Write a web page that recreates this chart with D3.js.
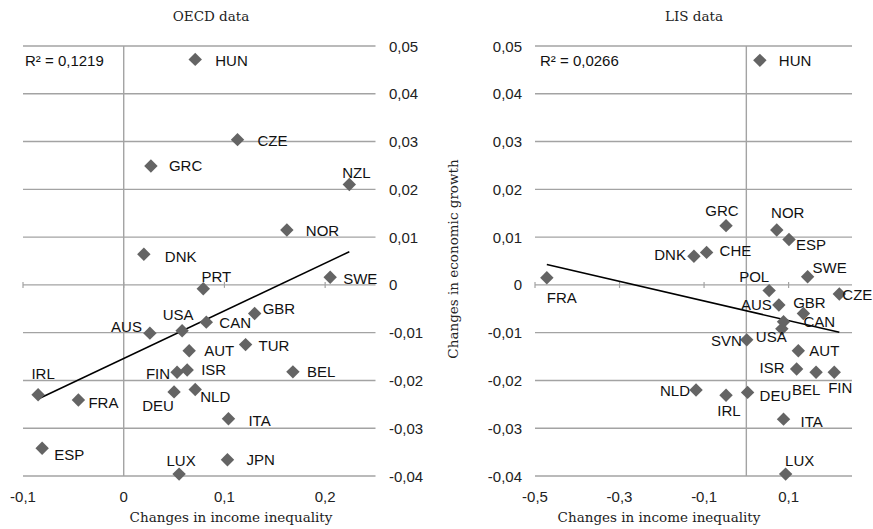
<!DOCTYPE html>
<html><head><meta charset="utf-8">
<script src="https://cdn.jsdelivr.net/npm/d3@7"></script>
<style>body{margin:0;background:#fff} svg{display:block}</style>
</head><body><svg id="c" width="873" height="529"></svg>
<script>
// ---------- DATA ----------
const oecdCountries = ["HUN","CZE","GRC","NZL","NOR","DNK","PRT","SWE","GBR","CAN","USA","AUS","AUT","TUR","FIN","ISR","BEL","IRL","FRA","DEU","NLD","ITA","ESP","JPN","LUX"];
const oecdX = [0.071,0.113,0.027,0.224,0.162,0.020,0.079,0.205,0.130,0.082,0.058,0.026,0.065,0.121,0.053,0.063,0.168,-0.085,-0.045,0.050,0.071,0.104,-0.081,0.103,0.055];
const oecdY = [0.0472,0.0304,0.0249,0.0210,0.0115,0.0064,-0.0008,0.0016,-0.0060,-0.0078,-0.0096,-0.0101,-0.0138,-0.0125,-0.0183,-0.0178,-0.0182,-0.0230,-0.0241,-0.0224,-0.0219,-0.0280,-0.0342,-0.0366,-0.0396];

const lisCountries = ["HUN","GRC","NOR","ESP","DNK","CHE","FRA","SWE","POL","CZE","AUS","GBR","CAN","USA","SVN","AUT","ISR","BEL","FIN","NLD","IRL","DEU","ITA","LUX"];
const lisX = [0.032,-0.048,0.072,0.101,-0.124,-0.094,-0.472,0.145,0.054,0.220,0.077,0.135,0.088,0.084,0.001,0.123,0.119,0.165,0.208,-0.119,-0.048,0.003,0.088,0.093];
const lisY = [0.0470,0.0124,0.0115,0.0095,0.0060,0.0068,0.0015,0.0017,-0.0012,-0.0019,-0.0042,-0.0060,-0.0077,-0.0092,-0.0115,-0.0138,-0.0176,-0.0183,-0.0183,-0.0220,-0.0231,-0.0225,-0.0281,-0.0396];

const yTicks = [-0.04,-0.03,-0.02,-0.01,0,0.01,0.02,0.03,0.04,0.05];
const oecdXTicks = [-0.1,0,0.1,0.2];
const lisXTicks = [-0.5,-0.3,-0.1,0.1];
const oecdTitle = "OECD data";
const lisTitle = "LIS data";
const oecdR2 = "R² = 0,1219";
const lisR2 = "R² = 0,0266";
const xTitle = "Changes in income inequality";
const yTitle = "Changes in economic growth";

// ---------- label placement (style) ----------
const oecdLabelPos = {
  HUN:[20,1,"start"], CZE:[20,1,"start"], GRC:[18,0,"start"], NZL:[7,-12,"middle"],
  NOR:[19,1,"start"], DNK:[21,2,"start"], PRT:[13,-12,"middle"], SWE:[13,1,"start"],
  GBR:[8,-5,"start"], CAN:[13,0,"start"], USA:[-4,-16,"middle"], AUS:[-8,-7,"end"],
  AUT:[15,0,"start"], TUR:[13,1,"start"], FIN:[-7,1,"end"], ISR:[14,0,"start"],
  BEL:[14,0,"start"], IRL:[5,-21,"middle"], FRA:[10,2,"start"], DEU:[-16,14,"middle"],
  NLD:[5,7,"start"], ITA:[20,2,"start"], ESP:[12,6,"start"], JPN:[19,0,"start"], LUX:[2,-14,"middle"]
};
const lisLabelPos = {
  HUN:[19,0,"start"], GRC:[-4,-15,"middle"], NOR:[11,-17,"middle"], ESP:[7,5,"start"],
  DNK:[-8,-2,"end"], CHE:[13,-2,"start"], FRA:[15,20,"middle"], SWE:[5,-9,"start"],
  POL:[-15,-14,"middle"], CZE:[3,1,"start"], AUS:[-7,0,"end"], GBR:[6,-11,"middle"],
  CAN:[20,0,"start"], USA:[-26,8,"start"], SVN:[-5,1,"end"], AUT:[11,0,"start"],
  ISR:[-12,-1,"end"], BEL:[-10,17,"middle"], FIN:[6,15,"middle"], NLD:[-6,0,"end"],
  IRL:[3,15,"middle"], DEU:[12,3,"start"], ITA:[17,2,"start"], LUX:[14,-14,"middle"]
};

// ---------- DRAW ----------
const svg = d3.select("#c");
svg.append("rect").attr("width",873).attr("height",529).attr("fill","#fff");
const SANS = "'Liberation Sans', Arial, sans-serif";
const SERIF = "'DejaVu Serif', serif";
const GRID = "#a3a3a3";
const MARK = "#646464";
const fmt = v => String(Math.round(v*100)/100).replace(".", ",");

const y = d3.scaleLinear().domain([-0.04, 0.05]).range([476, 46]);

function panel(o) {
  const g = svg.append("g");
  const x = o.x;
  const [x0, x1] = x.range();
  g.selectAll("line.grid").data(yTicks).join("line")
    .attr("x1", x0).attr("x2", x1)
    .attr("y1", d => y(d)).attr("y2", d => y(d))
    .attr("stroke", GRID).attr("stroke-width", 1.4);
  g.append("line").attr("x1", x(0)).attr("x2", x(0))
    .attr("y1", y(0.05)).attr("y2", y(-0.04))
    .attr("stroke", GRID).attr("stroke-width", 1.4);
  g.selectAll("line.tk").data(o.xTicks).join("line")
    .attr("x1", d => x(d)).attr("x2", d => x(d))
    .attr("y1", y(0) - 3).attr("y2", y(0) + 3)
    .attr("stroke", GRID).attr("stroke-width", 1.2);
  g.selectAll("text.yt").data(yTicks).join("text")
    .attr("x", o.yLabelX).attr("y", d => y(d))
    .attr("dominant-baseline", "central")
    .attr("text-anchor", o.yLabelAnchor)
    .attr("font-family", SANS).attr("font-size", 15).attr("fill", "#222")
    .text(fmt);
  g.selectAll("text.xt").data(o.xTicks).join("text")
    .attr("x", d => x(d)).attr("y", 496)
    .attr("dominant-baseline", "central")
    .attr("text-anchor", "middle")
    .attr("font-family", SANS).attr("font-size", 15).attr("fill", "#222")
    .text(fmt);
  // trend line (least squares)
  const n = o.xs.length;
  const mx = d3.mean(o.xs), my = d3.mean(o.ys);
  let sxy = 0, sxx = 0;
  for (let i = 0; i < n; i++) { sxy += (o.xs[i]-mx)*(o.ys[i]-my); sxx += (o.xs[i]-mx)**2; }
  const b = sxy / sxx, a = my - b * mx;
  const [xmin, xmax] = d3.extent(o.xs);
  g.append("line")
    .attr("x1", x(xmin)).attr("y1", y(a + b*xmin))
    .attr("x2", x(xmax)).attr("y2", y(a + b*xmax))
    .attr("stroke", "#000").attr("stroke-width", 1.5);
  const pts = o.names.map((c, i) => ({c, vx: o.xs[i], vy: o.ys[i]}));
  g.selectAll("path.m").data(pts).join("path")
    .attr("transform", d => `translate(${x(d.vx)},${y(d.vy)}) rotate(45)`)
    .attr("d", d3.symbol().type(d3.symbolSquare).size(90))
    .attr("fill", MARK);
  g.selectAll("text.lb").data(pts).join("text")
    .attr("x", d => x(d.vx) + o.pos[d.c][0])
    .attr("y", d => y(d.vy) + o.pos[d.c][1])
    .attr("text-anchor", d => o.pos[d.c][2])
    .attr("dominant-baseline", "central")
    .attr("font-family", SANS).attr("font-size", 15).attr("fill", "#111")
    .text(d => d.c);
  g.append("text").attr("x", o.r2x).attr("y", 60).attr("dominant-baseline", "central")
    .attr("font-family", SANS).attr("font-size", 15).attr("fill", "#111").text(o.r2);
  g.append("text").attr("x", o.titleX).attr("y", 16).attr("text-anchor", "middle")
    .attr("dominant-baseline", "central")
    .attr("font-family", SERIF).attr("font-size", 13.5).attr("fill", "#222").text(o.title);
  g.append("text").attr("x", o.xTitleX).attr("y", 517).attr("text-anchor", "middle")
    .attr("dominant-baseline", "central")
    .attr("font-family", SERIF).attr("font-size", 13.5).attr("fill", "#222").text(xTitle);
}

panel({
  x: d3.scaleLinear().domain([-0.1, 0.25]).range([23, 375.5]),
  xTicks: oecdXTicks, xs: oecdX, ys: oecdY, names: oecdCountries, pos: oecdLabelPos,
  yLabelX: 389, yLabelAnchor: "start", r2: oecdR2, r2x: 25,
  title: oecdTitle, titleX: 211, xTitleX: 231
});
panel({
  x: d3.scaleLinear().domain([-0.5, 0.25]).range([535, 852]),
  xTicks: lisXTicks, xs: lisX, ys: lisY, names: lisCountries, pos: lisLabelPos,
  yLabelX: 522, yLabelAnchor: "end", r2: lisR2, r2x: 540,
  title: lisTitle, titleX: 694, xTitleX: 659
});
svg.append("text")
  .attr("transform", "translate(453,259) rotate(-90)")
  .attr("text-anchor", "middle").attr("dominant-baseline", "central")
  .attr("font-family", SERIF).attr("font-size", 13.5).attr("fill", "#222")
  .text(yTitle);
</script></body></html>
